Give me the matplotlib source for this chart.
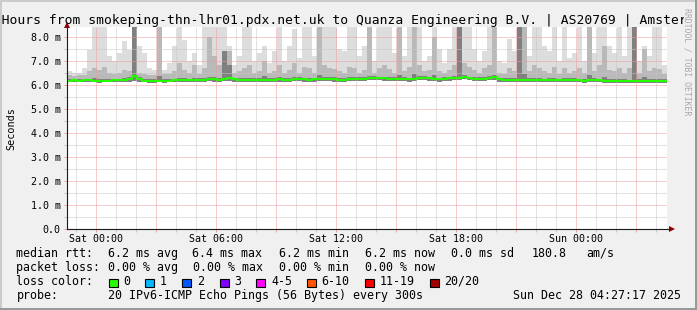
import numpy as np
import pandas as pd
import matplotlib
matplotlib.use('Agg')
import matplotlib.pyplot as plt
import matplotlib.dates as mdates
from matplotlib.patches import Rectangle
from matplotlib.transforms import Bbox
from matplotlib.ticker import MultipleLocator, FuncFormatter

TITLE = '30 Hours from smokeping-thn-lhr01.pdx.net.uk to Quanza Engineering B.V. | AS20769 | Amsterdam'
START = '2025-12-26 22:33'
STEP = '15min'

# median rtt per 15 min bin (ms)
median_rtt = [
    6.17, 6.18, 6.17, 6.18, 6.18, 6.17, 6.16, 6.17, 6.17, 6.18, 6.18, 6.20, 6.22,
    6.38, 6.22, 6.17, 6.16, 6.16, 6.17, 6.16, 6.17, 6.18, 6.18, 6.19, 6.18, 6.20, 6.20,
    6.21, 6.22, 6.22, 6.21, 6.24, 6.27, 6.22, 6.20, 6.19, 6.20, 6.21, 6.20, 6.21, 6.20,
    6.20, 6.22, 6.20, 6.21, 6.23, 6.23, 6.22, 6.20, 6.22, 6.24, 6.25, 6.23, 6.22, 6.20, 6.21, 6.23,
    6.23, 6.24, 6.25, 6.27, 6.28, 6.27, 6.26, 6.24, 6.23, 6.24, 6.23, 6.22, 6.24, 6.28, 6.29, 6.26,
    6.24, 6.22, 6.23, 6.26, 6.28, 6.29, 6.34, 6.27, 6.24, 6.23, 6.25, 6.28, 6.32, 6.22, 6.20, 6.20, 6.21,
    6.20, 6.19, 6.20, 6.21, 6.18, 6.18, 6.20, 6.19, 6.18, 6.20, 6.21, 6.20, 6.18, 6.17, 6.19, 6.20,
    6.18, 6.17, 6.16, 6.15, 6.16, 6.15, 6.14, 6.16, 6.15, 6.16, 6.15, 6.16, 6.17, 6.17,
]

# smoke: slowest ping, ~90th and ~75th percentile ping, fastest ping (ms)
ping_max = [
    6.55, 6.50, 6.50, 6.70, 7.45, 8.60, 8.60, 8.60, 7.20, 7.00, 7.30, 7.80, 7.45,
    8.60, 7.60, 7.30, 6.70, 6.60, 8.60, 6.60, 6.90, 7.60, 8.60, 7.85, 7.00, 7.30, 6.80,
    8.60, 8.60, 8.60, 8.60, 8.60, 7.60, 6.80, 7.20, 8.60, 8.60, 7.00, 7.30, 7.60, 6.90,
    7.40, 8.60, 7.00, 7.60, 8.30, 7.10, 8.60, 8.60, 7.20, 8.60, 8.60, 8.60, 8.60, 7.50, 7.40, 8.60,
    8.60, 7.20, 7.60, 8.60, 7.00, 8.60, 8.60, 8.60, 7.30, 8.60, 7.20, 8.60, 8.60, 8.60, 7.00, 7.20,
    8.60, 7.50, 6.90, 7.50, 8.60, 8.60, 8.60, 8.60, 7.50, 7.00, 7.40, 8.60, 8.60, 7.00, 6.90, 7.90, 7.40,
    8.60, 8.60, 7.20, 8.60, 8.60, 7.60, 7.40, 8.60, 7.00, 8.60, 7.10, 7.30, 8.60, 7.00, 8.60, 7.30,
    8.60, 8.60, 7.60, 7.30, 8.60, 7.20, 8.60, 8.60, 7.00, 7.60, 7.20, 8.60, 8.60, 6.80,
]
ping_p90 = [
    6.40, 6.38, 6.40, 6.42, 6.55, 6.70, 6.60, 6.75, 6.50, 6.45, 6.48, 6.60, 6.55,
    8.60, 6.50, 6.45, 6.40, 6.42, 8.60, 6.45, 6.44, 6.55, 6.90, 6.60, 6.50, 6.80, 6.45,
    6.70, 8.00, 7.20, 6.80, 7.40, 7.40, 6.50, 6.55, 6.70, 6.80, 6.50, 6.55, 7.00, 6.48,
    6.55, 6.80, 6.50, 6.60, 6.90, 6.50, 6.75, 6.70, 6.50, 8.60, 6.80, 6.70, 6.65, 6.55, 6.50, 6.75,
    6.70, 6.50, 6.60, 8.60, 6.50, 6.70, 6.80, 6.65, 6.50, 8.60, 6.55, 6.75, 8.60, 6.80, 6.55, 6.60,
    8.00, 6.55, 6.48, 6.60, 6.80, 8.60, 6.90, 6.75, 6.60, 6.50, 6.70, 6.80, 8.60, 6.50, 6.45, 6.70, 6.55,
    8.60, 8.60, 6.55, 6.80, 6.70, 6.55, 6.50, 6.75, 6.45, 6.70, 6.50, 6.55, 6.70, 6.50, 8.60, 6.55,
    6.80, 7.60, 6.60, 6.55, 6.70, 6.50, 6.70, 8.60, 6.50, 7.50, 6.55, 6.70, 6.65, 6.45,
]
ping_p75 = [
    6.22, 6.23, 6.22, 6.23, 6.25, 6.26, 6.24, 6.25, 6.23, 6.24, 6.24, 6.27, 6.30,
    8.60, 6.30, 6.23, 6.22, 6.22, 6.35, 6.22, 6.23, 6.24, 6.26, 6.26, 6.24, 6.28, 6.26,
    6.28, 6.32, 6.30, 6.28, 7.40, 6.80, 6.28, 6.26, 6.27, 6.28, 6.27, 6.26, 6.35, 6.26,
    6.27, 6.30, 6.26, 6.28, 6.32, 6.30, 6.28, 6.27, 6.28, 6.40, 6.34, 6.30, 6.30, 6.27, 6.28, 6.30,
    6.30, 6.31, 6.32, 6.36, 6.35, 6.34, 6.33, 6.31, 6.30, 6.40, 6.30, 6.29, 6.45, 6.36, 6.36, 6.33,
    6.40, 6.29, 6.30, 6.33, 6.35, 8.60, 6.42, 6.34, 6.31, 6.30, 6.32, 6.36, 6.40, 6.29, 6.27, 6.28, 6.28,
    8.60, 6.45, 6.27, 6.28, 6.26, 6.25, 6.27, 6.26, 6.25, 6.27, 6.28, 6.27, 6.25, 6.24, 6.40, 6.27,
    6.25, 6.30, 6.23, 6.22, 6.23, 6.22, 6.21, 8.60, 6.22, 6.30, 6.22, 6.23, 6.24, 6.24,
]
ping_min = [
    6.10, 6.11, 6.10, 6.11, 6.10, 6.10, 6.09, 6.10, 6.10, 6.11, 6.11, 6.12, 6.13,
    6.15, 6.12, 6.10, 6.09, 6.09, 6.10, 6.09, 6.10, 6.11, 6.11, 6.12, 6.11, 6.12, 6.12,
    6.13, 6.14, 6.13, 6.13, 6.15, 6.17, 6.13, 6.12, 6.11, 6.12, 6.13, 6.12, 6.13, 6.12,
    6.12, 6.13, 6.12, 6.13, 6.14, 6.14, 6.13, 6.12, 6.13, 6.15, 6.16, 6.14, 6.13, 6.12, 6.13, 6.14,
    6.14, 6.15, 6.16, 6.18, 6.19, 6.18, 6.17, 6.15, 6.14, 6.15, 6.14, 6.13, 6.15, 6.18, 6.19, 6.17,
    6.15, 6.13, 6.14, 6.16, 6.18, 6.19, 6.22, 6.18, 6.15, 6.14, 6.16, 6.18, 6.21, 6.13, 6.12, 6.12, 6.13,
    6.12, 6.11, 6.12, 6.13, 6.10, 6.10, 6.12, 6.11, 6.10, 6.12, 6.13, 6.12, 6.10, 6.09, 6.11, 6.12,
    6.10, 6.09, 6.08, 6.07, 6.08, 6.07, 6.06, 6.08, 6.07, 6.08, 6.07, 6.08, 6.09, 6.09,
]

RTT_STATS = ['6.2 ms avg', '6.4 ms max', '6.2 ms min', '6.2 ms now', '0.0 ms sd', '180.8', 'am/s']
LOSS_STATS = ['0.00 % avg', '0.00 % max', '0.00 % min', '0.00 % now']
LOSS_LABELS = ['0', '1', '2', '3', '4-5', '6-10', '11-19', '20/20']
LOSS_COLORS = ['#26ff00', '#00b8ff', '#0059ff', '#7e00ff', '#ff00ff', '#ff5500', '#ff0000', '#a00000']
PROBE = '20 IPv6-ICMP Echo Pings (56 Bytes) every 300s'
STAMP = 'Sun Dec 28 04:27:17 2025'

W, H = 697, 310
MONO = 'DejaVu Sans Mono'
MGRID = '#f29a9a'
GRID = '#c6c6c6'


def fx(x):
    return x / W


def fy(y):
    return 1 - y / H


def main() -> None:
    plt.rcParams['font.family'] = MONO
    n = len(median_rtt)
    assert all(len(a) == n for a in (ping_max, ping_p90, ping_p75, ping_min))
    times = pd.date_range(START, periods=n + 1, freq=STEP)

    def ext(a):
        return np.append(a, a[-1])

    fig = plt.figure(figsize=(W / 100, H / 100), dpi=100, facecolor='#f0f0f0')
    # 3d frame
    for (x0, y0, w, h, c) in [(0, 0, 2 / W, 1, '#cbcbcb'), (0, 1 - 2 / H, 1, 2 / H, '#cbcbcb'),
                              (1 - 2 / W, 0, 2 / W, 1, '#999999'), (0, 0, 1, 2 / H, '#999999')]:
        fig.add_artist(Rectangle((x0, y0), w, h, transform=fig.transFigure, color=c, lw=0))

    ax = fig.add_axes([fx(67), fy(228.7), 600 / W, 201.4 / H])
    ax.set_facecolor('white')

    ax.fill_between(times, ext(ping_min), ext(ping_max), step='post', color='#dddddd', lw=0)
    ax.fill_between(times, ext(ping_min), ext(ping_p90), step='post', color='#b9b9b9', lw=0)
    ax.fill_between(times, ext(ping_min), ext(ping_p75), step='post', color='#808080', lw=0)
    ax.step(times, ext(median_rtt), where='post', color=LOSS_COLORS[0], lw=1.5, zorder=4)

    ax.set_xlim(times[0], times[-1])
    ax.set_ylim(0, 8.39)

    ax.xaxis.set_major_locator(mdates.HourLocator(byhour=range(0, 24, 3)))
    ax.xaxis.set_minor_locator(mdates.HourLocator())

    def xlab(v, _):
        d = mdates.num2date(v)
        return d.strftime('%a %H:%M') if d.hour % 6 == 0 else ''
    ax.xaxis.set_major_formatter(FuncFormatter(xlab))
    ax.yaxis.set_major_locator(MultipleLocator(1))
    ax.yaxis.set_minor_locator(MultipleLocator(0.5))
    ax.yaxis.set_major_formatter(FuncFormatter(lambda v, _: '0.0' if v == 0 else f'{v:.1f} m'))

    ax.set_axisbelow(False)
    ax.grid(which='major', color=MGRID, lw=0.72, ls=(0, (1, 1)))
    ax.grid(which='minor', color=GRID, lw=0.72, ls=(0, (1, 1)))

    for s in ('top', 'right'):
        ax.spines[s].set_visible(False)
    for s in ('left', 'bottom'):
        ax.spines[s].set_color('#1a1a1a')
        ax.spines[s].set_linewidth(0.8)
        ax.spines[s].set_zorder(5)

    ax.tick_params(axis='both', which='major', colors=MGRID, labelcolor='black', width=0.72,
                   labelsize=7.2)
    ax.tick_params(axis='both', which='minor', colors=GRID, width=0.72)
    ax.tick_params(axis='x', which='major', length=2.5, pad=1.5)
    ax.tick_params(axis='x', which='minor', length=2)
    ax.tick_params(axis='y', which='major', length=2.5, pad=2)
    ax.tick_params(axis='y', which='minor', length=2)

    # axis arrows
    ax.plot([0], [1 + 2.8 / 201.4], marker='^', ms=4.5, color='#8b0000', mew=0,
            transform=ax.transAxes, clip_on=False, zorder=6)
    ax.plot([1, 1.004], [0, 0], color='#1a1a1a', lw=0.8, transform=ax.transAxes, clip_on=False)
    ax.plot([1 + 4.5 / 600], [0], marker='>', ms=4.5, color='#8b0000', mew=0,
            transform=ax.transAxes, clip_on=False, zorder=6)

    # title is wider than the image: cut it where the watermark column begins
    title = fig.text(fx(1 - 3 * 7.8), fy(24), TITLE, ha='left', va='baseline', fontsize=9.4)
    title.set_clip_box(Bbox.from_extents(0, 0, 684, H))
    title.set_clip_on(True)
    fig.text(fx(11.7), fy(129), 'Seconds', rotation=90, ha='center', va='center', fontsize=7.3)
    fig.text(fx(687.5), fy(62), 'RRDTOOL / TOBI OETIKER', rotation=270, ha='center', va='center',
             fontsize=5.9, color='#a8a8a8')

    fs = 8.4
    rows = [257, 271, 285, 299]
    fig.text(fx(16.4), fy(rows[0]), 'median rtt:', fontsize=fs, va='baseline')
    for x, s in zip([107.6, 192.4, 279.1, 365.3, 451.1, 532, 586.7], RTT_STATS):
        fig.text(fx(x), fy(rows[0]), s, fontsize=fs, va='baseline')
    fig.text(fx(16.4), fy(rows[1]), 'packet loss:', fontsize=fs, va='baseline')
    for x, s in zip([107.6, 193.4, 279.1, 365.3], LOSS_STATS):
        fig.text(fx(x), fy(rows[1]), s, fontsize=fs, va='baseline')
    fig.text(fx(16.4), fy(rows[2]), 'loss color:', fontsize=fs, va='baseline')
    for x, lab, c in zip([108.7, 145.3, 182.2, 219.6, 256.4, 307.1, 365.3, 429.8], LOSS_LABELS, LOSS_COLORS):
        fig.add_artist(Rectangle((fx(x), fy(286.7)), 9 / W, 8 / H, transform=fig.transFigure,
                                 facecolor=c, edgecolor='black', lw=0.8))
        fig.text(fx(x + 14.6), fy(rows[2]), lab, fontsize=fs, va='baseline')
    fig.text(fx(16.4), fy(rows[3]), 'probe:', fontsize=fs, va='baseline')
    fig.text(fx(107.6), fy(rows[3]), PROBE, fontsize=fs, va='baseline')
    fig.text(fx(680.7), fy(rows[3]), STAMP, fontsize=fs, va='baseline', ha='right')

    fig.savefig('out.png', dpi=100, facecolor=fig.get_facecolor())


if __name__ == '__main__':
    main()
